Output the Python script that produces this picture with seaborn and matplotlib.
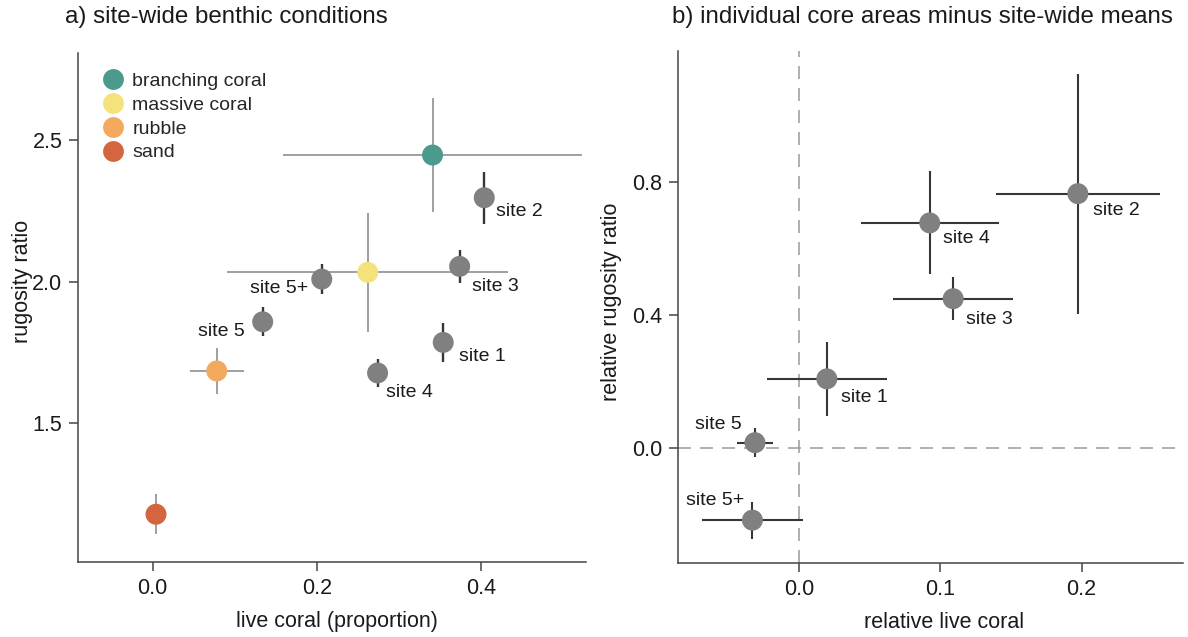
import matplotlib
matplotlib.use("Agg")
import matplotlib.pyplot as plt
from matplotlib.lines import Line2D
import numpy as np
import pandas as pd
import seaborn as sns

# ---- site-wide benthic conditions (means and errors) ----
benthic_types = ["branching coral", "massive coral", "rubble", "sand"]
benthic_coral = [0.341, 0.262, 0.078, 0.004]
benthic_coral_err = [0.182, 0.171, 0.033, 0.0]
benthic_rugosity = [2.448, 2.033, 1.684, 1.177]
benthic_rugosity_err = [0.202, 0.211, 0.080, 0.070]
benthic_colors = ["#4b9a8c", "#f4e27a", "#f3a95e", "#d4663f"]

# ---- individual core areas ----
sites = ["site 1", "site 2", "site 3", "site 4", "site 5", "site 5+"]
site_coral = [0.354, 0.404, 0.374, 0.274, 0.134, 0.206]
site_rugosity = [1.785, 2.297, 2.054, 1.677, 1.858, 2.009]
site_rugosity_err = [0.069, 0.092, 0.057, 0.048, 0.051, 0.053]

# ---- core areas relative to site-wide means ----
rel_coral = [0.0195, 0.1973, 0.109, 0.0924, -0.0314, -0.0332]
rel_coral_err = [0.0427, 0.058, 0.0425, 0.049, 0.0125, 0.0356]
rel_rugosity = [0.207, 0.764, 0.448, 0.676, 0.015, -0.218]
rel_rugosity_err = [0.112, 0.361, 0.065, 0.155, 0.043, 0.056]

# label placement (offset in pixels, horizontal alignment)
left_label_pos = {
    "site 1": (15.8, -14, "left"), "site 2": (11.6, -14, "left"),
    "site 3": (12.8, -20, "left"), "site 4": (8, -19.3, "left"),
    "site 5": (-18.4, -10, "right"), "site 5+": (-13.6, -9, "right"),
}
right_label_pos = {
    "site 1": (14.2, -18.4, "left"), "site 2": (15.6, -17, "left"),
    "site 3": (13.1, -20.3, "left"), "site 4": (13.6, -15.8, "left"),
    "site 5": (-13.4, 18.4, "right"), "site 5+": (-7.7, 19.2, "right"),
}

sns.set_theme(style="ticks")
plt.rcParams["font.family"] = ["Liberation Sans", "DejaVu Sans"]

GRAY = "#808080"
DARK = "#363636"
SPINE = "#444444"
W, H = 1188, 637
fig = plt.figure(figsize=(W / 100, H / 100), dpi=100)

ax1 = fig.add_axes([78.3 / W, 1 - 562.3 / H, 507.7 / W, 509 / H])
ax2 = fig.add_axes([678.3 / W, 1 - 562.7 / H, 505 / W, 511.7 / H])

MS = 228  # marker area (pt^2)

# ---------- panel a ----------
benthic_df = pd.DataFrame({
    "type": benthic_types, "coral": benthic_coral, "rugosity": benthic_rugosity,
})
ax1.errorbar(benthic_coral, benthic_rugosity, xerr=benthic_coral_err,
             yerr=benthic_rugosity_err, fmt="none", ecolor="#8f8f8f",
             elinewidth=1.2, capsize=0, zorder=1)
ax1.errorbar(site_coral, site_rugosity, yerr=site_rugosity_err, fmt="none",
             ecolor=DARK, elinewidth=1.7, capsize=0, zorder=2)
site_df = pd.DataFrame({"site": sites, "coral": site_coral, "rugosity": site_rugosity})
sns.scatterplot(data=site_df, x="coral", y="rugosity", color=GRAY, s=MS,
                edgecolor="none", linewidth=0, ax=ax1, zorder=3, legend=False)
sns.scatterplot(data=benthic_df, x="coral", y="rugosity", hue="type",
                palette=dict(zip(benthic_types, benthic_colors)), s=MS,
                edgecolor="none", linewidth=0, ax=ax1, zorder=4, legend=False)

for name, x, y in zip(sites, site_coral, site_rugosity):
    dx, dy, ha = left_label_pos[name]
    ax1.annotate(name, (x, y), xytext=(dx, dy), textcoords="offset pixels",
                 ha=ha, va="center", fontsize=14, color="#1a1a1a")

handles = [Line2D([0], [0], marker="o", linestyle="none", markersize=15,
                  markerfacecolor=c, markeredgewidth=0) for c in benthic_colors]
ax1.legend(handles, benthic_types, loc="upper left",
           bbox_to_anchor=(0.050, 0.9625), frameon=False, fontsize=14,
           borderpad=0, borderaxespad=0, handlelength=1.0,
           handletextpad=0.47, labelspacing=0.32)

ax1.set_xlim(-0.0907, 0.528)
ax1.set_ylim(1.007, 2.808)
ax1.set_xticks([0.0, 0.2, 0.4])
ax1.set_yticks([1.5, 2.0, 2.5])
ax1.set_xlabel("live coral (proportion)", fontsize=15.5)
ax1.set_ylabel("rugosity ratio", fontsize=15.5)
ax1.xaxis.set_label_coords(0.5096, -0.096)
ax1.xaxis.label.set_va("top")
ax1.yaxis.set_label_coords(-0.0892, 0.551)

# ---------- panel b ----------
ax2.axhline(0, color="#9a9a9a", lw=1.1, dashes=(8.5, 5.9), zorder=0)
ax2.axvline(0, color="#9a9a9a", lw=1.1, dashes=(8.5, 5.9), zorder=0)
ax2.errorbar(rel_coral, rel_rugosity, xerr=rel_coral_err, yerr=rel_rugosity_err,
             fmt="none", ecolor=DARK, elinewidth=1.5, capsize=0, zorder=2)
rel_df = pd.DataFrame({"site": sites, "coral": rel_coral, "rugosity": rel_rugosity})
sns.scatterplot(data=rel_df, x="coral", y="rugosity", color=GRAY, s=MS,
                edgecolor="none", linewidth=0, ax=ax2, zorder=3, legend=False)
for name, x, y in zip(sites, rel_coral, rel_rugosity):
    dx, dy, ha = right_label_pos[name]
    ax2.annotate(name, (x, y), xytext=(dx, dy), textcoords="offset pixels",
                 ha=ha, va="center", fontsize=14, color="#1a1a1a")

ax2.set_xlim(-0.0857, 0.272)
ax2.set_ylim(-0.346, 1.193)
ax2.set_xticks([0.0, 0.1, 0.2])
ax2.set_yticks([0.0, 0.4, 0.8])
ax2.set_xlabel("relative live coral", fontsize=15.5)
ax2.set_ylabel("relative rugosity ratio", fontsize=15.5)
ax2.xaxis.set_label_coords(0.526, -0.096)
ax2.xaxis.label.set_va("top")
ax2.yaxis.set_label_coords(-0.111, 0.509)

for ax in (ax1, ax2):
    sns.despine(ax=ax)
    for s in ("left", "bottom"):
        ax.spines[s].set_color(SPINE)
        ax.spines[s].set_linewidth(1.1)
    ax.tick_params(axis="both", length=6.5, width=1.1, color=SPINE,
                   labelsize=15.5, pad=5, labelcolor="#1a1a1a")
    ax.xaxis.label.set_color("#1a1a1a")
    ax.yaxis.label.set_color("#1a1a1a")
    ax.set_xticklabels([f"{t:.1f}" for t in ax.get_xticks()])
    ax.set_yticklabels([f"{t:.1f}" for t in ax.get_yticks()])

fig.text(65 / W, 1 - 23 / H, "a) site-wide benthic conditions", fontsize=17.4,
         ha="left", va="baseline", color="#1a1a1a")
fig.text(671.7 / W, 1 - 23 / H, "b) individual core areas minus site-wide means",
         fontsize=17.4, ha="left", va="baseline", color="#1a1a1a")

fig.savefig("out.png", dpi=100, facecolor="white")
